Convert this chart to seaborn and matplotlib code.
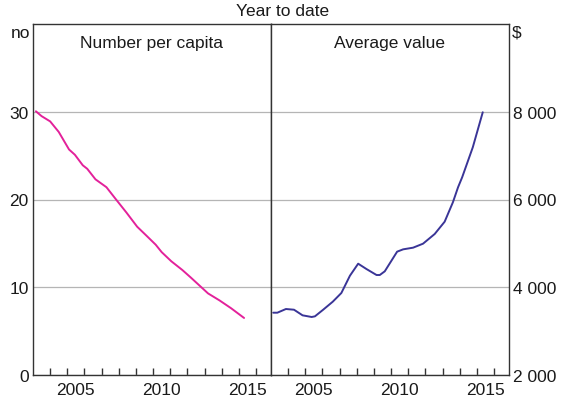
import matplotlib
matplotlib.use("Agg")
import matplotlib.pyplot as plt
import seaborn as sb

# number of cheques per capita, year to date
years_num = [2003.17, 2003.5, 2004.0, 2004.5, 2005.1, 2005.44, 2005.9, 2006.16, 2006.64,
             2007.28, 2007.8, 2008.45, 2009.07, 2009.6, 2010.15, 2010.5, 2011.06, 2011.7,
             2012.2, 2012.7, 2013.2, 2013.87, 2014.55, 2015.3]
per_capita = [30.05, 29.5, 28.9, 27.7, 25.7, 25.1, 23.9, 23.5, 22.3, 21.4, 20.1, 18.5,
              16.9, 15.9, 14.85, 14.0, 12.96, 11.97, 11.1, 10.2, 9.3, 8.5, 7.6, 6.5]

# average value ($)
years_val = [2003.13, 2003.37, 2003.87, 2004.34, 2004.84, 2005.37, 2005.56, 2006.04, 2006.6,
             2007.1, 2007.6, 2008.08, 2008.56, 2009.15, 2009.34, 2009.63, 2010.35, 2010.7,
             2011.28, 2011.86, 2012.54, 2013.12, 2013.6, 2013.9, 2014.14, 2014.76, 2015.34]
avg_value = [3420, 3420, 3504, 3488, 3360, 3322, 3337, 3488, 3671, 3869, 4263, 4537, 4416,
             4279, 4279, 4363, 4811, 4864, 4902, 4993, 5214, 5494, 5936, 6278, 6506, 7190, 7988]

left_ticks = [0, 10, 20, 30]
right_ticks = [2000, 4000, 6000, 8000]
right_labels = ["2 000", "4 000", "6 000", "8 000"]
year_labels = [2005, 2010, 2015]

sb.set_style("white")
plt.rcParams['font.family'] = ['Liberation Sans', 'DejaVu Sans']
fs = 12.5
spine_col = '#333333'
text_col = '#1a1a1a'

fig = plt.figure(figsize=(5.66, 4.06), dpi=100)
W, H = 566, 406
bot, top = 1 - 376 / H, 1 - 25 / H
ax1 = fig.add_axes([33 / W, bot, (271 - 33) / W, top - bot])
ax2 = fig.add_axes([271 / W, bot, (509 - 271) / W, top - bot])

sb.lineplot(x=years_num, y=per_capita, ax=ax1, color='#e3219a', linewidth=1.4)
sb.lineplot(x=years_val, y=avg_value, ax=ax2, color='#3a3597', linewidth=1.4)

ax1.set_ylim(0, 40)
ax2.set_ylim(2000, 10000)

for ax in (ax1, ax2):
    ax.set_xlim(2003, 2016.87)
    ax.set_xticks(range(2004, 2017))
    ax.set_xticklabels([])
    ax.set_xticks([y + 0.5 for y in year_labels], minor=True)
    ax.set_xticklabels([str(y) for y in year_labels], minor=True, fontsize=fs, color=text_col)
    ax.tick_params(axis='x', which='major', bottom=True, direction='in', length=5,
                   width=1, color=spine_col)
    ax.tick_params(axis='x', which='minor', bottom=True, length=0, pad=5)
    ax.grid(axis='y', color='#b5b5b5', linewidth=0.9)
    ax.grid(axis='x', visible=False)
    ax.set_axisbelow(True)
    for s in ax.spines.values():
        s.set_visible(True)
        s.set_color(spine_col)
        s.set_linewidth(1.0)
    ax.set_xlabel('')
    ax.set_ylabel('')

ax1.set_yticks(left_ticks)
ax1.set_yticklabels([str(t) for t in left_ticks], fontsize=fs, color=text_col)
ax1.tick_params(axis='y', length=0, pad=3)

ax2.set_yticks(right_ticks)
ax2.set_yticklabels(right_labels, fontsize=fs, color=text_col)
ax2.yaxis.tick_right()
ax2.tick_params(axis='y', length=0, pad=3)

ax1.text(0.5, 0.946, 'Number per capita', transform=ax1.transAxes,
         ha='center', va='center', fontsize=fs, color=text_col)
ax2.text(0.5, 0.946, 'Average value', transform=ax2.transAxes,
         ha='center', va='center', fontsize=fs, color=text_col)

fig.text(30 / W, 1 - 33 / H, 'no', ha='right', va='center', fontsize=fs, color=text_col)
fig.text(512 / W, 1 - 33 / H, '$', ha='left', va='center', fontsize=fs, color=text_col)
fig.text(283 / W, 1 - 12 / H, 'Year to date', ha='center', va='center', fontsize=fs,
         color=text_col)

fig.savefig('out.png', dpi=100)
